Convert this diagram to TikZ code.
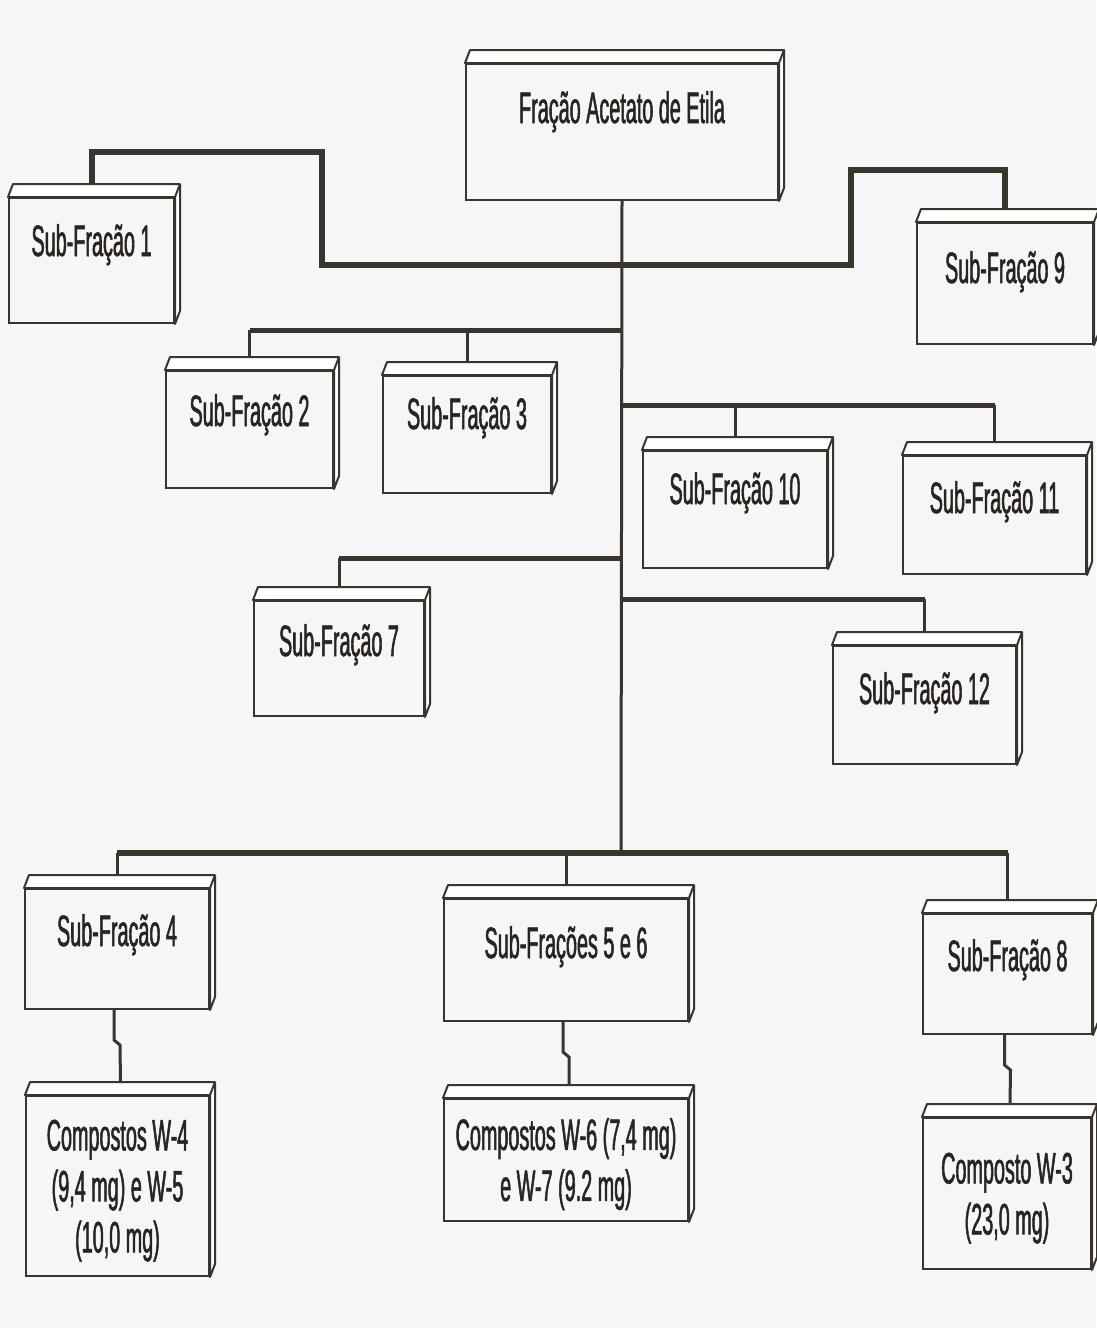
\documentclass[tikz,border=0pt]{standalone}
\usepackage{fontspec}
\newfontfamily\estreita[FakeStretch=0.45,FakeBold=1.2]{Liberation Sans}
\definecolor{tinta}{RGB}{58,52,46}
\definecolor{papel}{RGB}{246,246,246}

\begin{document}
\begin{tikzpicture}[x=1pt,y=-1pt,
  caixa/.style={draw=tinta,line width=2pt,inner sep=0pt,anchor=north west,text=tinta!70!black,font=\estreita\fontsize{44}{51}\selectfont},
  face/.style={draw=tinta,line width=2pt,fill=white,line join=round},
  barra/.style={draw=tinta,line width=6pt},
  ramo/.style={draw=tinta,line width=5pt},
  fio/.style={draw=tinta,line width=3pt}]
\useasboundingbox[fill=papel] (0,0) rectangle (1096,1328);

\node [caixa,minimum width=312pt,text height=59pt,text depth=77pt] (principal) at (465,63) {Fração Acetato de Etila};
\node [caixa,minimum width=165pt,text height=58pt,text depth=67pt] (sf1) at (8,197) {Sub-Fração 1};
\node [caixa,minimum width=176pt,text height=60pt,text depth=61pt] (sf9) at (916,222) {Sub-Fração 9};
\node [caixa,minimum width=167pt,text height=55pt,text depth=62pt] (sf2) at (165,370) {Sub-Fração 2};
\node [caixa,minimum width=168pt,text height=53pt,text depth=64pt] (sf3) at (382,375) {Sub-Fração 3};
\node [caixa,minimum width=184pt,text height=53pt,text depth=64pt] (sf10) at (642,450) {Sub-Fração 10};
\node [caixa,minimum width=183pt,text height=57pt,text depth=61pt] (sf11) at (902,455) {Sub-Fração 11};
\node [caixa,minimum width=170pt,text height=55pt,text depth=60pt] (sf7) at (253,600) {Sub-Fração 7};
\node [caixa,minimum width=183pt,text height=58pt,text depth=60pt] (sf12) at (832,645) {Sub-Fração 12};
\node [caixa,minimum width=184pt,text height=57pt,text depth=63pt] (sf4) at (24,888) {Sub-Fração 4};
\node [caixa,minimum width=244pt,text height=59pt,text depth=63pt] (sf56) at (443,898) {Sub-Frações 5 e 6};
\node [caixa,minimum width=169pt,text height=57pt,text depth=63pt] (sf8) at (922,913) {Sub-Fração 8};
\node [caixa,align=center,minimum width=183pt,minimum height=180pt] (cw4) at (25,1095) {\rule{0pt}{40pt}Compostos W-4\\(9,4 mg) e W-5\\(10,0 mg)};
\node [caixa,align=center,minimum width=244pt,minimum height=122pt] (cw6) at (443,1098) {\rule{0pt}{40pt}Compostos W-6 (7,4 mg)\\e W-7 (9.2 mg)};
\node [caixa,align=center,minimum width=168pt,minimum height=151pt] (cw3) at (922,1117) {\rule{0pt}{40pt}Composto W-3\\(23,0 mg)};

% faces de cima e da direita
\foreach \n in {principal,sf1,sf9,sf2,sf3,sf10,sf11,sf7,sf12,sf4,sf56,sf8,cw4,cw6,cw3} {
  \draw [face] (\n.north west) -- ++(5,-13) -- ([shift={(5,-13)}]\n.north east) -- ([shift={(5,-13)}]\n.south east) -- (\n.south east) -- (\n.north east) -- cycle;
  \draw [face] (\n.north east) -- ++(5,-13);
}

% tronco
\coordinate (fim) at (621,853);
\coordinate (t19) at (621,265);
\coordinate (t23) at (621,330);
\coordinate (t1011) at (621,405);
\coordinate (t7) at (621,558);
\coordinate (t12) at (621,599);

\draw [barra] (t19) -| ++(-299,-113) -| ([yshift=13pt]sf1.north);
\draw [barra] (t19) -| ++(230,-95) -| ([yshift=13pt]sf9.north);
\draw [fio] (principal.south) -- (fim);

\draw [ramo] (t23) -- (t23 -| sf2.north);
\draw [ramo] (t1011) -- (t1011 -| sf11.north);
\draw [ramo] (t7) -- (t7 -| sf7.north);
\draw [ramo] (t12) -- (t12 -| sf12.north);
\draw [barra] (fim -| sf4.north) -- (fim -| sf8.north);

\foreach \b/\n in {t23/sf2,t23/sf3,t1011/sf10,t1011/sf11,t7/sf7,t12/sf12,fim/sf4,fim/sf56,fim/sf8}
  \draw [fio] (\b -| \n.north) -- ([yshift=13pt]\n.north);

\foreach \a/\b in {sf4/cw4,sf56/cw6,sf8/cw3}
  \draw [fio] ([xshift=-3pt]\a.south) -- ++(0,30) -- ++(6,5) -- ([xshift=3pt,yshift=13pt]\b.north);
\end{tikzpicture}
\end{document}
